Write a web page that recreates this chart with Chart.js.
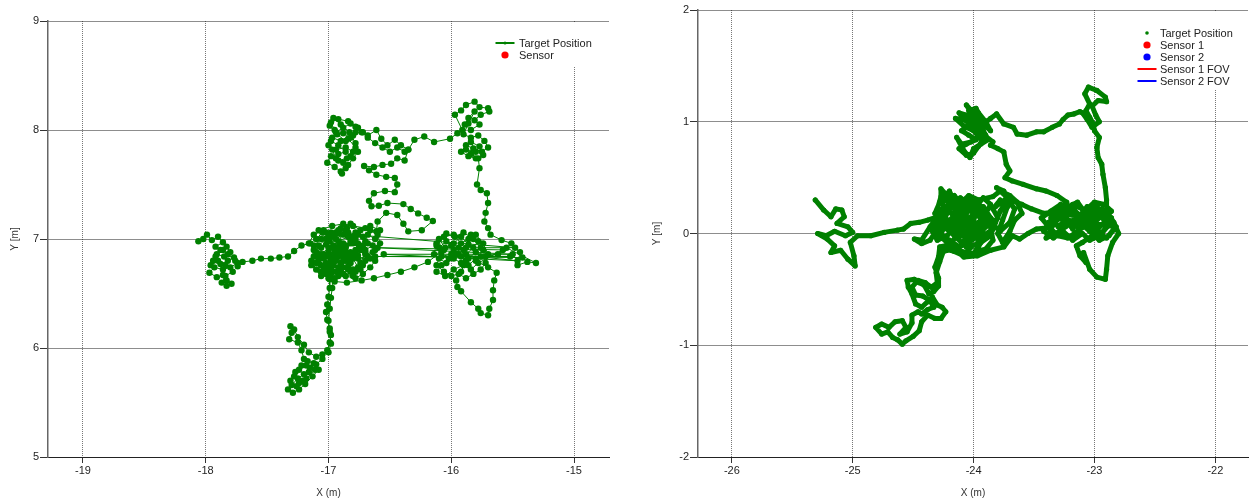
<!DOCTYPE html>
<html>
<head>
<meta charset="utf-8">
<script src="https://cdn.jsdelivr.net/npm/chart.js"></script>
<title>Target tracks</title>
<style>
  body { margin: 0; background: #fff; }
  canvas { position: absolute; top: 0; }
  #left { left: 0; }
  #right { left: 640px; }
</style>
</head>
<body>
<canvas id="left" width="626" height="500"></canvas>
<canvas id="right" width="612" height="500"></canvas>
<script>
// ---- data (metres) ----
const labels1 = ['Target Position', 'Sensor'];
const labels2 = ['Target Position', 'Sensor 1', 'Sensor 2', 'Sensor 1 FOV', 'Sensor 2 FOV'];
const xRange1 = [-19.285, -14.715];
const yRange1 = [5, 9];
const xRange2 = [-26.28, -21.73];
const yRange2 = [-2, 2];

// left run: target position track [x, y]
const track1 = [
  [-18.02,7.00],[-18.06,6.98],[-17.99,7.04],[-17.95,6.99],[-17.90,7.02],[-17.86,6.97],[-17.92,6.93],[-17.88,6.90],
  [-17.83,6.93],[-17.80,6.88],[-17.85,6.84],[-17.91,6.86],[-17.94,6.80],[-17.88,6.77],[-17.82,6.80],[-17.77,6.83],
  [-17.74,6.78],[-17.80,6.74],[-17.86,6.72],[-17.93,6.74],[-17.97,6.69],[-17.91,6.65],[-17.86,6.67],[-17.83,6.62],
  [-17.79,6.59],[-17.83,6.57],[-17.87,6.60],[-17.84,6.66],[-17.78,6.70],[-17.84,6.76],[-17.90,6.80],[-17.96,6.76],
  [-17.92,6.84],[-17.86,6.90],[-17.82,6.86],[-17.76,6.80],[-17.74,6.75],[-17.70,6.79],[-17.62,6.80],
  [-17.55,6.82],[-17.47,6.82],[-17.40,6.83],[-17.33,6.84],[-17.28,6.89],[-17.22,6.94],[-17.15,6.96],
  [-17.10,7.00],[-17.05,7.06],[-16.98,7.03],[-17.02,6.95],[-16.95,6.90],[-16.88,6.96],[-16.92,7.05],[-16.85,7.10],
  [-16.80,7.02],[-16.86,6.92],[-16.93,6.84],[-17.00,6.88],[-17.08,6.82],[-17.04,6.74],[-16.96,6.78],[-16.90,6.72],
  [-16.82,6.78],[-16.76,6.85],[-16.70,6.80],[-16.74,6.72],[-16.80,6.66],[-16.88,6.68],[-16.95,6.64],[-17.02,6.68],
  [-17.10,6.72],[-17.14,6.80],[-17.12,6.90],[-17.06,6.92],[-16.99,6.98],[-16.92,6.93],[-16.86,6.86],[-16.94,6.80],
  [-17.00,6.76],[-16.97,6.70],[-16.99,6.63],
  [-16.99,6.55],[-17.00,6.47],[-17.01,6.40],[-17.02,6.33],[-17.01,6.26],[-16.99,6.18],[-16.98,6.12],[-16.99,6.05],
  [-17.01,5.98],[-17.05,5.90],[-17.10,5.85],[-17.15,5.82],[-17.20,5.76],[-17.25,5.72],[-17.30,5.66],[-17.33,5.62],
  [-17.29,5.59],[-17.24,5.62],[-17.19,5.67],[-17.13,5.74],[-17.08,5.80],[-17.12,5.86],[-17.17,5.88],[-17.22,5.84],
  [-17.27,5.78],[-17.31,5.70],[-17.26,5.65],[-17.21,5.70],[-17.16,5.78],[-17.11,5.80],[-17.18,5.72],[-17.24,5.68],
  [-17.28,5.74],[-17.24,5.80],[-17.18,5.84],[-17.20,5.90],[-17.22,5.98],[-17.25,6.05],
  [-17.32,6.08],[-17.30,6.14],[-17.31,6.20],[-17.28,6.17],[-17.25,6.10],[-17.20,6.03],[-17.16,5.96],[-17.10,5.92],
  [-17.05,5.94],[-17.00,5.96],[-16.98,6.04],[-16.99,6.15],[-17.00,6.25],[-16.99,6.36],[-16.98,6.46],[-16.97,6.55],
  [-16.96,6.63],
  [-16.90,6.70],[-16.84,6.75],[-16.78,6.70],[-16.72,6.76],[-16.66,6.82],[-16.62,6.90],[-16.68,6.96],[-16.75,6.92],
  [-16.82,6.98],[-16.78,7.06],[-16.72,7.02],[-16.66,7.08],[-16.60,7.04],[-16.58,6.96],[-16.64,6.88],[-16.70,6.86],
  [-16.78,6.90],[-16.84,6.84],[-16.90,6.88],[-16.96,6.94],[-17.02,7.00],[-17.08,7.08],[-16.97,7.12],[-16.88,7.14],
  [-16.80,7.12],[-16.70,7.10],[-16.61,7.07],[-16.60,7.16],[-16.53,7.24],[-16.44,7.22],[-16.39,7.14],[-16.35,7.07],
  [-16.24,7.08],[-16.15,7.165],[-16.20,7.195],[-16.27,7.235],[-16.33,7.275],[-16.39,7.32],[-16.52,7.33],[-16.59,7.305],
  [-16.65,7.30],[-16.67,7.35],[-16.63,7.42],[-16.54,7.44],[-16.46,7.43],[-16.44,7.50],[-16.46,7.56],[-16.53,7.57],
  [-16.61,7.59],[-16.67,7.63],[-16.71,7.67],[-16.63,7.66],[-16.56,7.68],[-16.49,7.69],[-16.44,7.74],[-16.38,7.72],
  [-16.35,7.82],[-16.41,7.86],[-16.46,7.91],[-16.52,7.86],[-16.57,7.92],[-16.61,8.00],[-16.68,7.95],[-16.73,7.98],
  [-16.78,8.03],[-16.84,8.08],[-16.92,8.10],[-16.98,8.07],[-16.95,8.00],[-16.88,7.97],[-16.82,7.93],[-16.90,7.90],
  [-16.97,7.93],[-17.00,7.86],[-16.94,7.82],[-16.86,7.84],[-16.80,7.80],[-16.85,7.74],[-16.92,7.72],[-16.98,7.76],
  [-17.01,7.70],[-16.95,7.66],[-16.90,7.62],[-16.86,7.65],[-16.89,7.60],[-16.84,7.68],[-16.80,7.74],[-16.76,7.80],
  [-16.78,7.88],[-16.83,7.98],[-16.90,8.05],[-16.96,8.11],[-16.99,8.04],[-16.93,7.96],[-16.86,7.90],[-16.80,7.95],
  [-16.76,8.02],[-16.82,8.06],[-16.88,8.02],[-16.94,7.98],[-16.98,7.90],[-16.92,7.86],[-16.86,7.80],[-16.92,7.78],
  [-16.97,7.82],[-16.94,7.74],[-16.88,7.70],[-16.82,7.76],[-16.78,7.84],[-16.84,7.92],[-16.78,7.98],[-16.72,7.98],
  [-16.68,7.93],[-16.62,7.88],[-16.56,7.84],[-16.50,7.80],[-16.44,7.84],[-16.38,7.80],[-16.35,7.82],[-16.30,7.91],
  [-16.22,7.94],[-16.14,7.89],[-16.01,7.92],[-15.95,7.97],[-15.91,8.00],
  [-15.97,8.14],[-15.92,8.18],[-15.88,8.23],[-15.81,8.26],[-15.77,8.21],[-15.70,8.20],[-15.69,8.17],[-15.76,8.14],
  [-15.81,8.09],[-15.77,8.05],[-15.84,8.00],[-15.89,8.05],[-15.86,8.11],[-15.81,8.17],[-15.86,8.06],[-15.90,7.96],
  [-15.84,7.93],[-15.78,7.95],[-15.73,7.90],[-15.70,7.84],[-15.75,7.80],[-15.82,7.83],[-15.88,7.86],[-15.92,7.80],
  [-15.86,7.76],[-15.80,7.74],[-15.74,7.77],[-15.77,7.85],[-15.84,7.89],[-15.80,7.80],[-15.88,7.82],[-15.84,7.78],
  [-15.78,7.74],
  [-15.77,7.65],[-15.79,7.50],[-15.76,7.45],[-15.71,7.42],[-15.70,7.33],[-15.72,7.24],[-15.73,7.16],[-15.70,7.10],
  [-15.68,7.04],
  [-15.59,6.99],[-15.51,6.96],[-15.44,6.88],[-15.46,6.76],[-15.38,6.79],[-15.31,6.78],[-15.55,6.92],[-15.62,6.86],
  [-15.72,6.84],[-15.76,6.92],[-15.82,7.00],[-15.90,7.06],[-15.97,7.02],[-16.04,7.05],[-16.12,6.96],[-16.14,6.86],
  [-16.08,6.88],[-16.10,7.00],[-16.05,6.92],[-15.98,6.96],[-15.92,7.02],[-15.86,6.95],[-15.80,6.88],[-15.86,6.82],
  [-15.94,6.86],[-16.02,6.82],[-16.08,6.76],[-16.12,6.70],[-16.05,6.66],[-15.98,6.72],[-15.90,6.76],[-15.84,6.72],
  [-15.78,6.78],[-15.58,6.90],[-16.60,6.92],[-15.50,6.86],[-16.55,6.86],[-15.46,6.80],[-15.96,6.86],[-15.88,6.80],
  [-15.92,6.70],[-15.96,6.62],[-15.95,6.56],[-15.92,6.52],[-15.84,6.42],[-15.78,6.36],[-15.76,6.32],[-15.70,6.30],
  [-15.69,6.36],[-15.66,6.44],[-15.66,6.53],[-15.65,6.62],[-15.63,6.69],[-15.70,6.74],[-15.80,6.80],[-15.90,6.90],
  [-16.00,6.94],[-16.06,6.90],
  [-16.19,6.79],[-16.30,6.74],[-16.41,6.70],[-16.52,6.67],[-16.63,6.64],[-16.73,6.62],[-16.85,6.60],[-16.95,6.61],
  [-17.02,6.72],[-16.95,6.82],[-16.88,6.80],[-16.82,6.88],[-16.90,6.94],
  [-16.96,7.02],[-17.04,7.08],[-17.12,7.04],[-17.16,6.96],[-17.10,6.88],[-17.02,6.84],[-16.96,6.76],[-16.88,6.74],
  [-16.80,6.72],[-16.74,6.78],[-16.70,6.88],[-16.76,6.96],[-16.84,7.02],[-16.92,6.98],[-16.98,6.92],[-17.04,6.86],
  [-17.08,6.78],[-17.02,6.71],[-16.94,6.70],[-16.86,6.66],[-16.78,6.64],[-16.72,6.68],[-16.66,6.74],[-16.62,6.80],
  [-16.68,6.84],[-16.76,6.82],[-16.84,6.80],[-16.92,6.84],[-16.98,6.80],[-17.06,6.76],[-17.12,6.84],[-17.08,6.94],
  [-17.00,7.02],[-16.92,7.08],[-16.84,7.06],[-16.76,7.04],[-16.70,6.98],[-16.64,6.94],[-16.70,6.90],[-16.80,6.86],
  [-16.88,6.90],[-16.94,6.86],[-16.90,6.78],[-16.84,6.72],[-16.92,6.66],[-17.00,6.64],[-17.06,6.70],[-17.10,6.78],
  [-17.04,6.82],[-16.96,6.86],[-16.86,6.94],[-16.80,6.96],[-16.74,6.90],[-16.68,7.04],[-16.62,7.00],[-16.58,7.08],
  [-16.66,7.12],[-16.74,7.08],[-16.82,7.14],[-16.90,7.10],[-16.98,7.06],
  [-17.06,7.00],[-17.12,6.94],[-17.06,6.86],[-17.00,6.92],[-16.94,7.00],[-16.88,7.04],[-16.82,6.96],[-16.88,6.84],
  [-16.96,6.82],[-17.02,6.78],[-16.98,6.72],[-16.90,6.76],[-16.82,6.70],[-16.76,6.74],[-16.80,6.82],[-16.86,6.88],
  [-16.92,6.90],[-17.00,6.84],[-17.08,6.86],[-17.14,6.76],[-17.06,6.66],[-16.98,6.68],[-16.92,6.74],[-16.86,6.80],
  [-16.78,6.86],[-16.72,6.94],[-16.78,7.00],[-16.86,7.08],[-16.94,7.06],[-17.02,7.06],
  [-15.48,6.92],[-16.10,6.92],[-16.04,6.98],[-15.98,6.90],[-15.92,6.84],[-15.88,6.92],[-15.84,7.04],[-15.78,6.98],
  [-15.74,6.90],[-15.80,6.82],[-15.86,6.76],[-15.92,6.78],[-15.98,6.82],[-16.04,6.78],[-16.10,6.82],[-16.12,6.76],
  [-16.06,6.70],[-16.00,6.66],[-15.94,6.68],[-15.88,6.64],[-15.82,6.68],[-15.76,6.72],[-15.72,6.78],[-15.70,6.86],
  [-15.74,6.96],[-15.80,7.04],[-15.86,7.00],[-15.92,6.96],[-15.98,7.04],[-16.06,7.02],[-16.12,6.94],[-16.08,6.84],
  [-16.00,6.86],[-15.94,6.92],[-15.88,6.86],[-15.82,6.92],[-15.76,6.84],[-15.52,6.84],[-16.62,6.84],[-15.42,6.83]
];

// right run: target position track [x, y]
const track2 = [
  [-25.31,0.30],[-25.24,0.21],[-25.18,0.15],[-25.14,0.22],[-25.09,0.21],[-25.07,0.15],[-25.13,0.09],[-25.04,0.06],
  [-25.00,0.01],[-25.06,-0.02],[-25.15,0.02],[-25.22,-0.02],[-25.29,0.00],[-25.21,-0.05],[-25.15,-0.11],[-25.18,-0.17],
  [-25.10,-0.15],[-25.04,-0.23],[-24.98,-0.29],[-24.99,-0.20],[-25.02,-0.08],[-24.96,-0.02],[-24.85,-0.02],[-24.74,0.01],
  [-24.63,0.03],[-24.58,0.04],[-24.52,0.09],[-24.45,0.10],[-24.38,0.12],[-24.30,0.15],[-24.36,0.06],[-24.43,-0.06],
  [-24.49,-0.05],[-24.43,-0.09],[-24.36,-0.06],
  [-24.25,0.12],[-24.30,0.22],[-24.27,0.33],[-24.27,0.40],[-24.22,0.34],[-24.18,0.26],[-24.22,0.18],[-24.30,0.10],
  [-24.34,0.02],[-24.30,-0.06],[-24.22,-0.02],[-24.16,0.06],[-24.10,0.14],[-24.14,0.22],[-24.11,0.32],[-24.05,0.27],
  [-24.00,0.18],[-24.06,0.10],[-24.12,0.02],[-24.18,-0.08],[-24.24,-0.14],[-24.16,-0.16],[-24.08,-0.20],[-24.02,-0.12],
  [-24.06,-0.04],[-24.00,0.04],[-23.94,0.12],[-23.98,0.24],[-23.92,0.32],[-23.86,0.26],[-23.90,0.18],[-23.96,0.06],
  [-23.92,-0.04],[-23.98,-0.16],[-23.90,-0.14],[-23.84,-0.06],[-23.86,0.06],[-23.80,0.14],[-23.84,0.22],[-23.78,0.30],
  [-23.72,0.24],[-23.76,0.12],[-23.80,0.00],[-23.76,-0.08],[-23.70,0.02],[-23.66,0.12],[-23.60,0.18],[-23.64,0.28],
  [-23.70,0.34],[-23.78,0.38],[-23.84,0.33],[-23.96,0.30],[-24.04,0.34],[-24.12,0.26],[-24.20,0.22],[-24.26,0.16],
  [-24.20,0.08],[-24.12,0.10],[-24.04,0.14],[-23.96,0.18],[-23.88,0.10],[-23.94,0.02],[-24.02,-0.02],[-24.10,-0.08],
  [-24.32,0.18],[-24.28,0.28],[-24.20,0.30],[-24.14,0.18],[-24.08,0.24],[-24.02,0.30],[-23.96,0.24],[-24.00,0.12],
  [-24.08,0.06],[-24.16,0.12],[-24.24,0.06],[-24.28,-0.02],[-24.20,-0.06],[-24.12,-0.12],[-24.04,-0.08],[-23.96,-0.02],
  [-23.90,0.06],[-23.94,0.14],[-24.02,0.20],[-24.10,0.26],[-24.16,0.34],[-24.22,0.24],[-24.26,0.10],[-24.18,0.02],
  [-24.10,-0.02],[-24.02,0.06],[-23.96,0.10],[-23.88,0.16],[-23.82,0.10],[-23.86,-0.02],[-23.94,-0.08],[-24.00,-0.18],
  [-24.10,-0.16],[-24.18,-0.12],[-24.24,-0.04],[-24.32,0.08],[-24.26,0.22],[-24.18,0.18],[-24.12,0.06],[-24.06,0.00],
  [-23.98,-0.04],[-23.92,0.06],[-23.86,0.14],[-23.92,0.24],[-24.00,0.26],[-24.06,0.18],[-24.14,0.14],[-24.22,0.10],
  [-24.26,0.30],[-24.20,0.38],[-24.16,0.28],[-24.24,0.20],[-24.30,0.14],[-24.22,0.04],[-24.14,-0.04],[-24.06,-0.12],
  [-23.98,-0.10],[-23.92,-0.02],[-23.84,0.04],[-23.78,0.20],[-23.72,0.30],[-23.66,0.22],[-23.70,0.10],[-23.78,0.02],
  [-23.86,0.10],[-23.94,0.20],[-24.02,0.24],[-24.08,0.16],[-24.02,0.08],[-23.96,0.00],[-24.04,-0.06],[-24.12,0.00],
  [-24.18,0.08],[-24.10,0.20],[-24.04,0.30],
  [-24.30,0.00],[-24.20,-0.10],[-24.28,-0.12],
  [-24.29,-0.21],[-24.32,-0.30],[-24.29,-0.40],[-24.29,-0.47],[-24.33,-0.52],[-24.37,-0.54],[-24.41,-0.46],[-24.45,-0.44],
  [-24.49,-0.41],[-24.55,-0.42],[-24.54,-0.48],[-24.51,-0.54],[-24.48,-0.63],[-24.43,-0.66],[-24.38,-0.61],[-24.34,-0.57],
  [-24.30,-0.64],[-24.26,-0.66],[-24.23,-0.70],[-24.27,-0.76],[-24.32,-0.76],[-24.38,-0.73],[-24.43,-0.79],[-24.45,-0.87],
  [-24.50,-0.92],[-24.56,-0.96],[-24.59,-0.99],[-24.63,-0.95],[-24.67,-0.93],[-24.71,-0.88],[-24.76,-0.90],[-24.81,-0.84],
  [-24.76,-0.81],[-24.70,-0.84],[-24.65,-0.79],[-24.59,-0.78],[-24.56,-0.84],[-24.61,-0.90],[-24.55,-0.88],[-24.51,-0.80],
  [-24.51,-0.73],[-24.46,-0.70],[-24.43,-0.72],[-24.38,-0.68],[-24.33,-0.66],[-24.36,-0.60],[-24.42,-0.56],[-24.48,-0.55],
  [-24.51,-0.48],[-24.46,-0.42],[-24.40,-0.44],[-24.35,-0.48],[-24.30,-0.44],[-24.31,-0.35],[-24.28,-0.25],[-24.25,-0.16],
  [-24.16,-0.14],[-24.08,-0.21],[-23.97,-0.20],[-23.86,-0.15],[-23.75,-0.12],[-23.68,-0.02],[-23.62,-0.05],[-23.55,0.00],
  [-23.48,0.04],
  [-23.40,0.05],[-23.32,0.12],[-23.25,0.20],[-23.18,0.26],[-23.10,0.22],[-23.02,0.16],[-22.95,0.20],[-22.88,0.12],
  [-22.84,0.04],[-22.90,-0.04],[-22.98,0.02],[-23.06,0.08],[-23.14,0.02],[-23.22,-0.04],[-23.30,-0.02],[-23.38,0.06],
  [-23.44,0.14],[-23.36,0.20],[-23.28,0.26],[-23.20,0.18],[-23.12,0.10],[-23.04,0.02],[-22.96,-0.06],[-22.88,-0.02],
  [-22.82,0.06],
  [-23.36,0.14],[-23.30,0.06],[-23.24,0.12],[-23.18,0.04],[-23.12,0.16],[-23.06,0.24],[-23.00,0.10],[-22.94,0.16],
  [-22.90,0.06],[-22.96,-0.02],[-23.04,-0.06],[-23.10,0.00],[-23.18,-0.06],[-23.26,0.02],[-23.34,-0.04],[-23.42,0.02],
  [-23.38,0.10],[-23.30,0.16],[-23.22,0.24],[-23.14,0.28],[-23.06,0.16],[-22.98,0.24],[-22.92,0.14],[-22.86,0.20],
  [-22.92,0.26],[-23.00,0.28],[-23.08,0.20],[-23.16,0.12],[-23.24,0.06],[-23.32,0.00],[-23.40,-0.04],[-23.34,0.08],
  [-23.26,0.18],[-23.18,0.22],[-23.10,0.14],[-23.02,0.06],[-22.94,0.00],[-22.88,0.08],[-22.94,0.22],[-23.04,0.12],
  [-23.14,0.06],[-23.22,0.12],[-23.30,0.22],[-23.38,0.18],
  [-22.86,0.14],[-22.94,0.08],[-23.02,-0.02],[-23.10,-0.08],[-23.15,-0.11],[-23.12,-0.20],[-23.07,-0.26],
  [-23.09,-0.17],[-23.04,-0.32],[-22.98,-0.39],[-22.91,-0.41],[-22.90,-0.32],[-22.89,-0.20],[-22.85,-0.08],[-22.80,0.00],
  [-22.84,0.10],[-22.90,0.20],[-22.90,0.30],
  [-22.91,0.41],[-22.93,0.53],[-22.94,0.62],[-22.97,0.68],[-22.98,0.77],[-22.96,0.86],[-23.00,0.92],[-23.01,0.98],
  [-23.04,1.04],[-23.07,1.10],[-23.04,1.16],[-23.08,1.25],[-23.05,1.31],[-22.98,1.28],[-22.91,1.22],[-22.90,1.18],
  [-22.97,1.19],[-23.02,1.14],[-22.99,1.06],[-22.96,1.00],[-23.02,0.95],[-23.06,1.02],[-23.10,1.08],[-23.12,1.09],
  [-23.17,1.07],[-23.22,1.06],[-23.26,1.02],[-23.29,0.98],[-23.35,0.95],[-23.42,0.91],[-23.48,0.91],[-23.56,0.88],
  [-23.64,0.89],[-23.67,0.95],[-23.75,0.98],[-23.81,1.07],
  [-23.86,1.03],[-23.92,0.98],[-23.98,1.05],[-24.06,1.15],[-24.02,1.08],[-24.10,1.02],[-24.15,1.03],[-24.08,0.96],
  [-24.00,0.92],[-23.95,0.86],[-24.02,0.82],[-24.10,0.80],[-24.14,0.86],[-24.08,0.74],[-24.03,0.68],[-24.00,0.76],
  [-23.94,0.80],[-23.88,0.84],[-23.92,0.92],[-23.98,0.98],[-24.04,1.02],[-23.96,1.08],[-23.90,1.00],[-23.86,0.92],
  [-24.04,1.10],[-23.98,1.12],[-23.94,1.04],[-24.02,0.98],[-24.10,0.92],[-24.04,0.88],[-23.98,0.84],[-24.06,0.80],
  [-24.12,0.76],[-24.06,0.70],[-24.00,0.72],[-23.96,0.78],[-23.90,0.88],[-23.94,0.96],[-24.00,1.00],[-24.06,1.06],
  [-24.12,1.08],[-24.08,1.02],[-23.96,0.92],[-23.84,0.82],[-23.86,0.79],
  [-23.80,0.76],[-23.75,0.73],[-23.73,0.62],[-23.70,0.56],[-23.74,0.50],[-23.68,0.47],[-23.59,0.44],[-23.48,0.40],
  [-23.40,0.38],[-23.31,0.34],[-23.23,0.28],[-23.30,0.20],[-23.42,0.18],[-23.52,0.22],[-23.60,0.26],[-23.70,0.30],
  [-23.81,0.41],[-23.75,0.38],[-23.73,0.31],[-23.82,0.24]
];

const sensor1 = [];      // no sensor marks inside the left view
const sensorA = [];      // right view: sensor 1
const sensorB = [];      // right view: sensor 2
const fovA = [];
const fovB = [];

const pts = arr => arr.map(p => ({x: p[0], y: p[1]}));

const GREEN = '#008000';
const tickFont = {family: "'Liberation Sans', Arial, sans-serif", size: 11};
const titleFont = {family: "'Liberation Sans', Arial, sans-serif", size: 10};

// draws the legend box inside the plot area (white box hides the grid)
const legendBox = {
  id: 'legendBox',
  afterDatasetsDraw(chart, args, o) {
    const ctx = chart.ctx;
    ctx.save();
    ctx.fillStyle = '#fff';
    ctx.fillRect(o.box[0], o.box[1], o.box[2], o.box[3]);
    ctx.font = "11px 'Liberation Sans Narrow', 'Liberation Sans', Arial, sans-serif";
    ctx.textBaseline = 'middle';
    chart.data.datasets.forEach((ds, i) => {
      const y = o.top + i * o.step;
      const kind = o.kinds[i];
      ctx.fillStyle = ds.borderColor;
      ctx.strokeStyle = ds.borderColor;
      if (kind === 'line' || kind === 'lineDot') {
        ctx.lineWidth = 2;
        ctx.beginPath();
        ctx.moveTo(o.sx - 9.5, y);
        ctx.lineTo(o.sx + 9.5, y);
        ctx.stroke();
      }
      if (kind !== 'line') {
        const r = kind === 'dot' ? 3.6 : (kind === 'smallDot' ? 1.8 : 1.5);
        ctx.beginPath();
        ctx.arc(o.sx, y, r, 0, Math.PI * 2);
        ctx.fill();
      }
      ctx.fillStyle = '#222';
      ctx.fillText(ds.label, o.tx, y + 0.5);
    });
    ctx.restore();
  }
};

function scales(xr, yr, yWidth, yTitlePad) {
  const grid = (col) => ({
    color: col, lineWidth: 1, tickLength: 0, drawTicks: true, tickColor: '#333', tickBorderDash: []
  });
  return {
    x: {
      type: 'linear', min: xr[0], max: xr[1],
      afterFit: s => { s.height = 43; },
      ticks: {stepSize: 1, includeBounds: false, padding: 1, color: '#1e1e1e', font: tickFont, maxRotation: 0},
      grid: Object.assign(grid('#777'), {tickLength: 6}),
      border: {display: true, color: '#222', width: 1, dash: [1, 1]},
      title: {display: true, text: 'X (m)', color: '#333', font: titleFont, padding: {top: 0, bottom: 1}}
    },
    y: {
      type: 'linear', min: yr[0], max: yr[1],
      afterFit: s => { s.width = yWidth; },
      ticks: {stepSize: 1, includeBounds: false, padding: 1, color: '#1e1e1e', font: tickFont},
      grid: Object.assign(grid('#1a1a1a'), {tickLength: 8}),
      border: {display: true, color: '#666', width: 1.5, dash: [1, 1]},
      title: {display: true, text: 'Y [m]', color: '#333', font: titleFont, padding: {top: yTitlePad, bottom: 0}}
    }
  };
}

new Chart(document.getElementById('left'), {
  type: 'scatter',
  data: {
    datasets: [
      {label: labels1[0], data: pts(track1), showLine: true, borderColor: GREEN, backgroundColor: GREEN,
       borderWidth: 1, pointRadius: 3.2, pointBorderWidth: 0, pointBackgroundColor: GREEN},
      {label: labels1[1], data: pts(sensor1), borderColor: '#ff0000', backgroundColor: '#ff0000', pointRadius: 4}
    ]
  },
  options: {
    responsive: false, animation: false, events: [],
    layout: {padding: {top: 21, right: 17, left: 0, bottom: 0}},
    scales: scales(xRange1, yRange1, 48, 9.5),
    plugins: {
      legend: {display: false}, tooltip: {enabled: false},
      legendBox: {box: [488, 23, 112, 43], sx: 505, tx: 519, top: 43, step: 12, kinds: ['lineDot', 'dot']}
    }
  },
  plugins: [legendBox]
});

new Chart(document.getElementById('right'), {
  type: 'scatter',
  data: {
    datasets: [
      {label: labels2[0], data: pts(track2), showLine: true, borderColor: GREEN, backgroundColor: GREEN,
       borderWidth: 5, borderJoinStyle: 'round', borderCapStyle: 'round',
       pointRadius: 2.6, pointBorderWidth: 0, pointBackgroundColor: GREEN},
      {label: labels2[1], data: pts(sensorA), borderColor: '#ff0000', backgroundColor: '#ff0000'},
      {label: labels2[2], data: pts(sensorB), borderColor: '#0000ff', backgroundColor: '#0000ff'},
      {label: labels2[3], data: pts(fovA), showLine: true, borderColor: '#ff0000'},
      {label: labels2[4], data: pts(fovB), showLine: true, borderColor: '#0000ff'}
    ]
  },
  options: {
    responsive: false, animation: false, events: [],
    layout: {padding: {top: 10, right: 2, left: 0, bottom: 0}},
    scales: scales(xRange2, yRange2, 58, 11.5),
    plugins: {
      legend: {display: false}, tooltip: {enabled: false},
      legendBox: {box: [490, 12, 112, 78], sx: 507, tx: 520, top: 33, step: 12,
                  kinds: ['smallDot', 'dot', 'dot', 'line', 'line']}
    }
  },
  plugins: [legendBox]
});
</script>
</body>
</html>
